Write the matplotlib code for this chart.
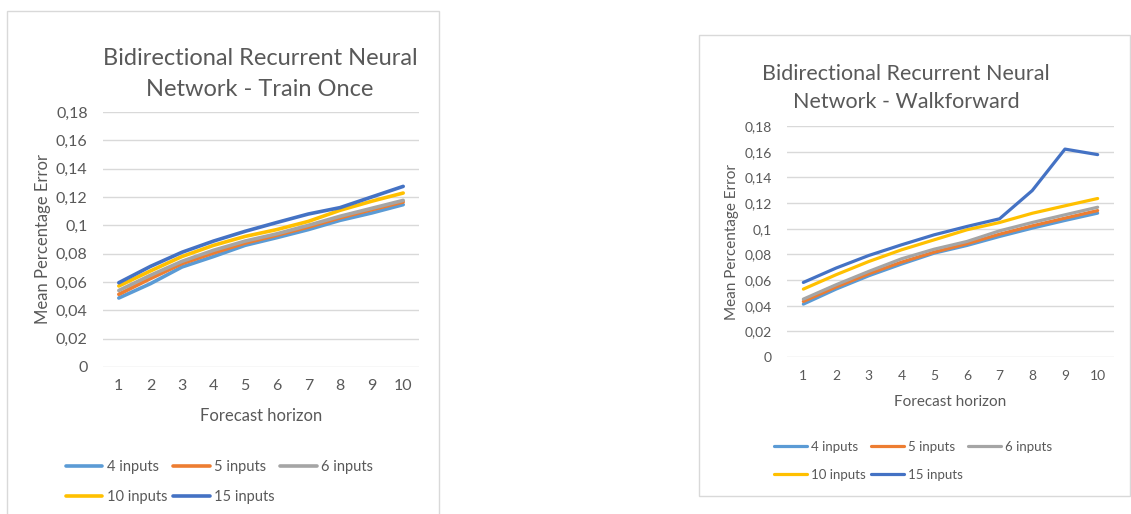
import matplotlib
matplotlib.use("Agg")
import matplotlib.pyplot as plt
from matplotlib.patches import Rectangle
from matplotlib.ticker import FixedLocator, FuncFormatter

# ---- data -------------------------------------------------------------
horizons = [1, 2, 3, 4, 5, 6, 7, 8, 9, 10]
series_labels = ["4 inputs", "5 inputs", "6 inputs", "10 inputs", "15 inputs"]
series_colors = ["#5B9BD5", "#ED7D31", "#A5A5A5", "#FFC000", "#4472C4"]
y_ticks = [0, 0.02, 0.04, 0.06, 0.08, 0.10, 0.12, 0.14, 0.16, 0.18]

train_once_4 = [0.0487, 0.0588, 0.0706, 0.0780, 0.0859, 0.0913, 0.0970, 0.1035, 0.1087, 0.1146]
train_once_5 = [0.0513, 0.0624, 0.0730, 0.0805, 0.0875, 0.0930, 0.0988, 0.1053, 0.1110, 0.1165]
train_once_6 = [0.0540, 0.0647, 0.0746, 0.0824, 0.0889, 0.0940, 0.1000, 0.1064, 0.1120, 0.1176]
train_once_10 = [0.0572, 0.0678, 0.0780, 0.0859, 0.0922, 0.0970, 0.1028, 0.1106, 0.1170, 0.1228]
train_once_15 = [0.0595, 0.0710, 0.0810, 0.0889, 0.0958, 0.1020, 0.1080, 0.1125, 0.1200, 0.1275]

walkforward_4 = [0.0412, 0.0529, 0.0633, 0.0724, 0.0809, 0.0869, 0.0939, 0.1004, 0.1064, 0.1121]
walkforward_5 = [0.0433, 0.0545, 0.0648, 0.0739, 0.0817, 0.0882, 0.0957, 0.1022, 0.1082, 0.1141]
walkforward_6 = [0.0451, 0.0563, 0.0667, 0.0765, 0.0840, 0.0900, 0.0983, 0.1048, 0.1108, 0.1167]
walkforward_10 = [0.0529, 0.0641, 0.0744, 0.0835, 0.0913, 0.0991, 0.1048, 0.1120, 0.1178, 0.1235]
walkforward_15 = [0.0581, 0.0693, 0.0791, 0.0874, 0.0952, 0.1017, 0.1077, 0.1297, 0.1620, 0.1577]

title_once = "Bidirectional Recurrent Neural\nNetwork - Train Once"
title_walk = "Bidirectional Recurrent Neural\nNetwork - Walkforward"
x_label = "Forecast horizon"
y_label = "Mean Percentage Error"

# ---- styling ----------------------------------------------------------
W, H = 1131, 514
TEXT = "#595959"
GRID = "#D9D9D9"
plt.rcParams["font.family"] = ["Lato", "DejaVu Sans"]

fig = plt.figure(figsize=(W / 100, H / 100), dpi=100)
fig.patch.set_facecolor("white")


def fx(px):
    return px / W


def fy(py):
    return 1 - py / H


def excel_fmt(v, _pos=None):
    s = f"{v:.2f}".rstrip("0").rstrip(".")
    return s.replace(".", ",")


def panel(frame, box, series, title, title_xy, title_size, tick_size,
          ylab_x, xlab_y, label_size, lw, legend_xy, leg_size, leg_rowgap):
    # chart frame
    fl, ft, fr, fb = frame
    fig.patches.append(Rectangle((fx(fl), fy(fb)), fx(fr - fl), (fb - ft) / H,
                                 transform=fig.transFigure, fill=False,
                                 edgecolor=GRID, linewidth=1.0))
    l, t, r, b = box
    ax = fig.add_axes([fx(l), fy(b), fx(r - l), (b - t) / H])
    ax.set_xlim(0.5, 10.5)
    ax.set_ylim(0, 0.18)
    for s in ax.spines.values():
        s.set_visible(False)
    ax.yaxis.set_major_locator(FixedLocator(y_ticks))
    ax.yaxis.set_major_formatter(FuncFormatter(excel_fmt))
    ax.set_xticks(horizons)
    ax.set_xticklabels([str(h) for h in horizons])
    ax.tick_params(axis="both", length=0, colors=TEXT, labelsize=tick_size)
    ax.tick_params(axis="y", pad=11)
    ax.tick_params(axis="x", pad=9)
    ax.grid(axis="y", color=GRID, linewidth=1.0)
    ax.set_axisbelow(True)

    handles = []
    for vals, lab, col in zip(series, series_labels, series_colors):
        ln, = ax.plot(horizons, vals, color=col, linewidth=lw, label=lab,
                      solid_capstyle="round", solid_joinstyle="round")
        handles.append(ln)

    fig.text(fx(title_xy[0]), fy(title_xy[1]), title, ha="center", va="center",
             fontsize=title_size, color=TEXT, linespacing=1.55)
    fig.text(fx(ylab_x), fy((t + b) / 2), y_label, rotation=90, ha="center",
             va="center", fontsize=label_size, color=TEXT)
    fig.text(fx((l + r) / 2), fy(xlab_y), x_label, ha="center", va="center",
             fontsize=label_size, color=TEXT)

    # row-major order for a 3-column legend: 4,5,6 / 10,15
    order = [0, 3, 1, 4, 2]
    fig.legend([handles[i] for i in order], [series_labels[i] for i in order],
               ncol=3, loc="upper left",
               bbox_to_anchor=(fx(legend_xy[0]), fy(legend_xy[1])),
               frameon=False, fontsize=leg_size, handlelength=2.5,
               handletextpad=0.3, columnspacing=0.4, borderpad=0,
               borderaxespad=0, labelspacing=leg_rowgap, labelcolor=TEXT)
    return ax


panel(frame=(7, 11, 439, 520), box=(103, 112, 419, 367),
      series=[train_once_4, train_once_5, train_once_6, train_once_10, train_once_15],
      title=title_once, title_xy=(260, 74), title_size=17, tick_size=11.5,
      ylab_x=43, xlab_y=416, label_size=12, lw=2.6,
      legend_xy=(66, 460), leg_size=10.5, leg_rowgap=1.1)

panel(frame=(699, 35, 1130, 496), box=(787, 126, 1114, 357),
      series=[walkforward_4, walkforward_5, walkforward_6, walkforward_10, walkforward_15],
      title=title_walk, title_xy=(906, 88), title_size=15.5, tick_size=10,
      ylab_x=732, xlab_y=402, label_size=11, lw=2.3,
      legend_xy=(774, 441), leg_size=9.5, leg_rowgap=1.2)

fig.savefig("out.png", dpi=100, facecolor="white")
